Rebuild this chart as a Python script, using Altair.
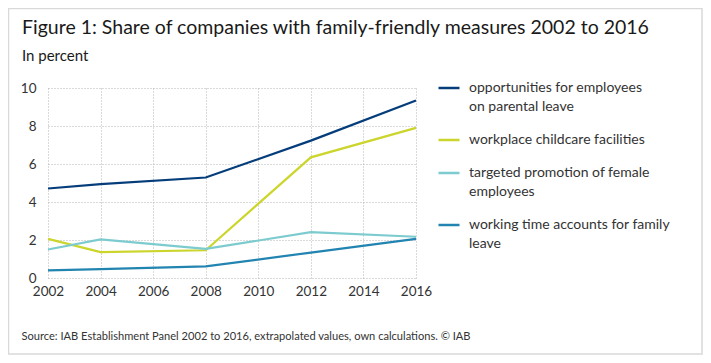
import altair as alt
import pandas as pd

years = [2002, 2004, 2008, 2012, 2016]
series_names = [
    "opportunities for employees|on parental leave",
    "workplace childcare facilities",
    "targeted promotion of female|employees",
    "working time accounts for family|leave",
]
parental_leave = [4.71, 4.94, 5.29, 7.23, 9.34]
childcare = [2.06, 1.36, 1.46, 6.35, 7.90]
female_promotion = [1.50, 2.03, 1.53, 2.41, 2.17]
working_time = [0.40, 0.47, 0.61, 1.34, 2.06]
colors = ["#053d7b", "#cbd52b", "#7ccbcf", "#2284b0"]
x_ticks = [2002, 2004, 2006, 2008, 2010, 2012, 2014, 2016]
y_ticks = [0, 2, 4, 6, 8, 10]

rows = []
for name, vals in zip(series_names, [parental_leave, childcare, female_promotion, working_time]):
    for y, v in zip(years, vals):
        rows.append({"year": y, "value": v, "series": name})
df = pd.DataFrame(rows)

FONT = "Lato"
TXT = "#333333"

lines = alt.Chart(df).mark_line(strokeWidth=2.2).encode(
    x=alt.X("year:Q",
            scale=alt.Scale(domain=[2002, 2016], nice=False, zero=False),
            axis=alt.Axis(values=x_ticks, format="d", grid=True, gridDash=[1, 2],
                          gridColor="#b5b5b5", domain=False, ticks=False,
                          labelFont=FONT, labelFontSize=13.5, labelColor=TXT,
                          labelPadding=6, labelFlush=False,
                          title="Source: IAB Establishment Panel 2002 to 2016, extrapolated values, own calculations. © IAB",
                          titleFont=FONT, titleFontSize=11.1, titleFontWeight="normal",
                          titleColor=TXT, titleAnchor="start", titleAlign="left",
                          titleX=-27, titleY=58, titleBaseline="middle")),
    y=alt.Y("value:Q",
            scale=alt.Scale(domain=[0, 10], nice=False),
            axis=alt.Axis(values=y_ticks, grid=True, gridDash=[1, 2], gridColor="#b5b5b5",
                          domain=False, ticks=False, labelFont=FONT, labelFontSize=13.5,
                          labelColor=TXT, labelPadding=12, title=None)),
    color=alt.Color("series:N", sort=series_names,
                    scale=alt.Scale(domain=series_names, range=colors),
                    legend=alt.Legend(orient="none", legendX=389, legendY=-12,
                                      title=None, symbolType="stroke", symbolSize=441,
                                      symbolStrokeWidth=2.5, labelFont=FONT,
                                      labelFontSize=14, labelColor=TXT,
                                      labelOffset=8, labelBaseline="middle",
                                      rowPadding=14,
                                      labelLimit=300,
                                      labelExpr="split(datum.label, '|')")),
)

border = alt.Chart(pd.DataFrame({"a": [0]})).mark_rect(
    filled=False, stroke="#d9d9d9", strokeWidth=1.5
).encode(x=alt.value(-39.5), x2=alt.value(654), y=alt.value(-79.5), y2=alt.value(266))

chart = alt.layer(border, lines).properties(
    width=368, height=190,
    padding={"left": 40, "top": 80, "right": 287, "bottom": 77},
    autosize=alt.AutoSizeParams(type="none"),
    title=alt.TitleParams(
        "Figure 1: Share of companies with family-friendly measures 2002 to 2016",
        subtitle="In percent", anchor="start", frame="group", dx=-26,
        font=FONT, fontSize=19.5, fontWeight="normal", color="#1a1a1a",
        subtitleFont=FONT, subtitleFontSize=15, subtitleColor="#1a1a1a",
        subtitlePadding=10, offset=-57),
).configure(
    background="white",
    style={"guide-label": {"lineHeight": 19}},
).configure_view(stroke=None)

chart.save("out.html", embed_options={"renderer": "svg", "actions": False})
